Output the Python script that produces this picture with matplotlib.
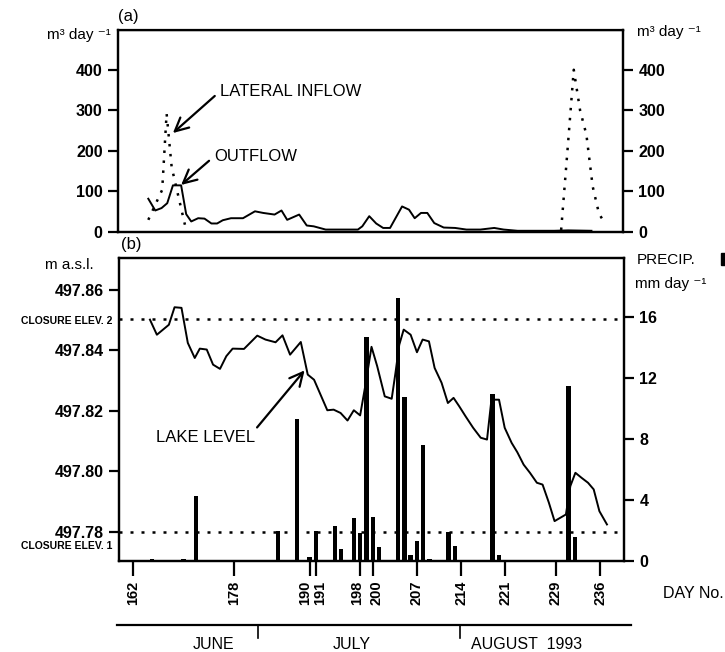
import numpy as np
import matplotlib
matplotlib.use('Agg')
import matplotlib.pyplot as plt
import matplotlib.transforms as mtransforms
from matplotlib.patches import Rectangle

plt.rcParams['font.family'] = ['Liberation Sans', 'DejaVu Sans']

# (a) outflow and lateral inflow, m3/day
outflow_day = [164.6, 165.7, 166.7, 167.6, 168.5, 169.5, 169.8, 170.6, 171.4, 172.5,
               173.5, 174.6, 175.5, 176.4, 177.7, 179.6, 181.5, 182.8, 184.6, 185.7,
               186.6, 188.5, 189.7, 190.8, 192.7, 195.6, 197.8, 198.5, 199.6, 200.7,
               201.8, 202.9, 204.8, 205.9, 206.8, 207.8, 208.8, 209.9, 211.4, 213.2,
               215.0, 217.2, 219.4, 220.9, 223.1, 228.9, 231.1, 234.8]
outflow = [82, 53, 59, 71, 115, 115, 115, 44, 26, 34,
           33, 21, 21, 29, 34, 34, 51, 47, 43, 53,
           30, 43, 16, 14, 6, 6, 6, 14, 39, 21,
           10, 10, 63, 55, 34, 47, 47, 22, 11, 10,
           6, 6, 10, 6, 3, 3, 4, 3]
inflow_day_jun = [164.6, 166.8, 167.5, 168.3, 169.6, 170.4]
inflow_jun = [30, 104, 292, 160, 72, 18]
inflow_day_aug = [230, 231, 232, 233, 234, 235, 236, 237]
inflow_aug = [5, 200, 400, 300, 240, 112, 45, 20]

# (b) lake level, m a.s.l.
level_day = [164.7, 165.8, 167.7, 168.6, 169.7, 170.7, 171.8, 172.6, 173.7, 174.7,
             175.8, 176.8, 177.8, 179.6, 181.7, 183.0, 184.6, 185.7, 186.9, 188.6,
             189.7, 190.7, 192.8, 193.8, 194.9, 196.0, 197.0, 198.0, 198.9, 199.8,
             200.7, 201.9, 203.0, 203.6, 204.2, 204.9, 206.0, 207.0, 207.9, 208.9,
             209.8, 210.9, 211.9, 212.8, 213.7, 214.7, 215.9, 217.1, 218.1, 218.8,
             220.0, 220.9, 222.0, 222.9, 223.9, 224.9, 226.0, 226.9, 227.9, 228.8,
             230.6, 231.3, 232.1, 233.1, 234.1, 235.0, 235.9, 237.1]
level = [497.8502, 497.8452, 497.8485, 497.8543, 497.8541, 497.8425, 497.8375, 497.8406, 497.8403, 497.8353,
         497.8339, 497.8381, 497.8406, 497.8405, 497.8449, 497.8436, 497.8427, 497.8450, 497.8386, 497.8428,
         497.8320, 497.8303, 497.8202, 497.8204, 497.8193, 497.8168, 497.8202, 497.8185, 497.8293, 497.8412,
         497.8348, 497.8248, 497.8240, 497.8326, 497.8419, 497.8469, 497.8452, 497.8394, 497.8436, 497.8430,
         497.8342, 497.8293, 497.8226, 497.8243, 497.8215, 497.8182, 497.8144, 497.8111, 497.8105, 497.8237,
         497.8237, 497.8144, 497.8094, 497.8063, 497.8022, 497.7995, 497.7962, 497.7956, 497.7896, 497.7835,
         497.7857, 497.7951, 497.7995, 497.7978, 497.7962, 497.7940, 497.7868, 497.7824]
closure_1 = 497.780
closure_2 = 497.8505

# precipitation, mm/day
precip_day = [165, 170, 172, 185, 188, 190, 191, 194, 195, 197, 198, 199, 200, 201,
              204, 205, 206, 207, 208, 209, 212, 213, 219, 220, 231, 232]
precip = [0.1, 0.1, 4.25, 2.0, 9.3, 0.25, 2.0, 2.3, 0.8, 2.8, 1.85, 14.7, 2.9, 0.9,
          17.3, 10.8, 0.4, 1.3, 7.6, 0.1, 1.9, 1.0, 11.0, 0.4, 11.5, 1.6]

day_ticks = [162, 178, 190, 191, 198, 200, 207, 214, 221, 229, 236]
month_ticks = [182, 214]
months = ['JUNE', 'JULY', 'AUGUST  1993']
month_pos = [175, 196.8, 224.5]

W, H = 725, 652
fig = plt.figure(figsize=(W / 100, H / 100), dpi=100)
xlim = (159.8, 239.8)


def box(l, t, r, b):
    return [l / W, 1 - b / H, (r - l) / W, (b - t) / H]


def bold_ticks(a, size=11.5):
    for lab in a.get_yticklabels():
        lab.set_fontweight('bold')
        lab.set_fontsize(size)


arrow = dict(arrowstyle='->', lw=1.6, color='black', mutation_scale=24,
             shrinkA=2, shrinkB=0)

# ---- panel (a)
ax = fig.add_axes(box(118, 30, 623, 232))
ax.plot(outflow_day, outflow, color='black', lw=1.4)
ax.plot(inflow_day_jun, inflow_jun, color='black', lw=1.8, ls=(0, (1, 3)))
ax.plot(inflow_day_aug, inflow_aug, color='black', lw=1.8, ls=(0, (1, 3)))
ax.set_xlim(xlim)
ax.set_ylim(0, 498)
ax.set_xticks([])
ax.set_yticks([0, 100, 200, 300, 400])
ax.tick_params(axis='y', direction='out', length=7, width=1.6, pad=4)
bold_ticks(ax)
axr = ax.twinx()
axr.set_ylim(ax.get_ylim())
axr.set_yticks([0, 100, 200, 300, 400])
axr.tick_params(axis='y', direction='out', length=7, width=1.6, pad=4)
bold_ticks(axr)
for a in (ax, axr):
    for s in a.spines.values():
        s.set_linewidth(1.6)
ax.spines['top'].set_linewidth(1.0)

ax.annotate('LATERAL INFLOW', xy=(168.5, 244), xytext=(175.9, 346),
            fontsize=12, va='center', ha='left',
            arrowprops=dict(arrow, relpos=(0.0, 0.5)))
ax.annotate('OUTFLOW', xy=(169.8, 116), xytext=(175.0, 186),
            fontsize=12, va='center', ha='left',
            arrowprops=dict(arrow, relpos=(0.0, 0.5)))

# ---- panel (b)
axb = fig.add_axes(box(119, 258, 624, 561))
axp = axb.twinx()
axp.bar(precip_day, precip, width=0.7, color='black')
axp.set_ylim(0, 19.9)
axp.set_yticks([0, 4, 8, 12, 16])
axp.tick_params(axis='y', direction='out', length=7, width=1.6, pad=4)
bold_ticks(axp)

axb.plot(level_day, level, color='black', lw=1.4, zorder=3)
axb.axhline(closure_2, color='black', lw=1.8, ls=(0, (1.2, 3.2)))
axb.axhline(closure_1, color='black', lw=1.8, ls=(0, (1.2, 3.2)))
axb.set_zorder(axp.get_zorder() + 1)
axb.patch.set_visible(False)
axb.set_xlim(xlim)
axb.set_ylim(497.7703, 497.8706)
axb.set_yticks([497.78, 497.80, 497.82, 497.84, 497.86])
axb.set_yticklabels(['497.78', '497.80', '497.82', '497.84', '497.86'])
bold_ticks(axb)
axb.set_xticks(day_ticks)
axb.set_xticklabels([str(d) for d in day_ticks], rotation=90, fontsize=10.5,
                    fontweight='bold')
axb.tick_params(axis='y', direction='out', length=7, width=1.6, pad=4)
axb.tick_params(axis='x', direction='out', length=11, width=1.6, pad=3)
# spread the labels of the close tick pairs a little, as in the print
shift = {190: -4.5, 191: 4.5, 198: -3.5, 200: 3.5}
for d, lab in zip(day_ticks, axb.get_xticklabels()):
    if d in shift:
        lab.set_transform(lab.get_transform() + mtransforms.ScaledTranslation(
            shift[d] / 100, 0, fig.dpi_scale_trans))
for a in (axb, axp):
    for s in a.spines.values():
        s.set_linewidth(1.6)
axb.annotate('LAKE LEVEL', xy=(189.2, 497.8334), xytext=(165.6, 497.8111),
             fontsize=12, va='center', ha='left',
             arrowprops=dict(arrow, shrinkA=0, relpos=(1.0, 1.0)))

# ---- month bar
axm = fig.add_axes(box(118, 615, 623, 652))
axm.set_xlim(xlim)
axm.set_ylim(0, 1)
axm.axis('off')
axm.plot([159.7, 241.0], [0.73, 0.73], color='black', lw=1.6, clip_on=False)
for m in month_ticks:
    axm.plot([m, m], [0.73, 0.38], color='black', lw=1.2)
for name, pos in zip(months, month_pos):
    axm.text(pos, 0.19, name, ha='center', va='center', fontsize=11.5)

# ---- labels around the axes
fig.text(118 / W, 1 - 17 / H, '(a)', fontsize=12, va='center', ha='left')
fig.text(121 / W, 1 - 244 / H, '(b)', fontsize=12, va='center', ha='left')
fig.text(47 / W, 1 - 35 / H, 'm³ day ⁻¹', fontsize=11, va='center', ha='left')
fig.text(637 / W, 1 - 32 / H, 'm³ day ⁻¹', fontsize=11, va='center', ha='left')
fig.text(45 / W, 1 - 265 / H, 'm a.s.l.', fontsize=11, va='center', ha='left')
fig.text(637 / W, 1 - 260 / H, 'PRECIP.', fontsize=11, va='center', ha='left')
fig.text(635 / W, 1 - 284 / H, 'mm day ⁻¹', fontsize=11, va='center', ha='left')
fig.text(663 / W, 1 - 593 / H, 'DAY No.', fontsize=11.5, va='center', ha='left')
fig.text(112 / W, 1 - 321 / H, 'CLOSURE ELEV. 2', fontsize=7.5, fontweight='bold',
         va='center', ha='right')
fig.text(112 / W, 1 - 546 / H, 'CLOSURE ELEV. 1', fontsize=7.5, fontweight='bold',
         va='center', ha='right')
fig.patches.append(Rectangle((721 / W, 1 - 265 / H), 4 / W, 12 / H,
                             transform=fig.transFigure, color='black'))

fig.savefig('out.png', dpi=100)
